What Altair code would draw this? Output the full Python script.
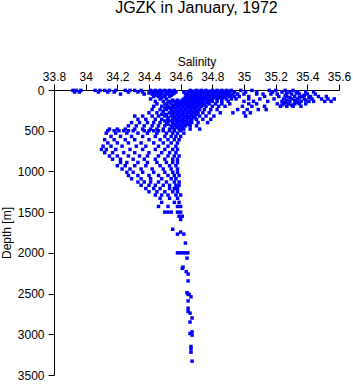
import altair as alt
import pandas as pd

# (depth [m], [salinity values observed at that depth])
surface_rows = [
    (5, [33.92, 33.94, 33.97, 34.06, 34.09, 34.12, 34.15, 34.19, 34.25, 34.28, 34.31, 34.35, 34.41, 34.44,
         34.47, 34.50, 34.53, 34.56, 34.66, 34.70, 34.73, 34.76, 34.80, 34.83, 34.86, 34.89, 34.92, 34.98,
         35.05, 35.16, 35.20, 35.26, 35.31]),
    (15, [34.43, 34.46, 34.49, 34.52, 34.55, 34.68, 34.72, 34.75, 34.78, 34.81, 34.84, 34.87, 34.90]),
    (25, [33.93, 33.96, 34.08, 34.14, 34.18, 34.27, 34.33, 34.36, 34.42, 34.45, 34.48, 34.51, 34.54, 34.57,
          34.62, 34.65, 34.68, 34.71, 34.74, 34.77, 34.79, 34.82, 34.85, 34.88, 34.91, 34.94, 35.01, 35.08,
          35.18, 35.24, 35.29, 35.34, 35.39, 35.44]),
    (37, [34.40, 34.44, 34.47, 34.51, 34.56, 34.64, 34.67, 34.70, 34.73, 34.76, 34.80, 34.86, 34.89, 35.27,
          35.33]),
    (50, [34.22, 34.37, 34.42, 34.45, 34.48, 34.52, 34.55, 34.63, 34.66, 34.69, 34.72, 34.75, 34.78, 34.81,
          34.84, 34.87, 34.90, 34.93, 34.96, 35.00, 35.08, 35.12, 35.17, 35.21, 35.30, 35.35, 35.40, 35.45]),
    (65, [34.44, 34.47, 34.50, 34.54, 34.65, 34.68, 34.71, 34.74, 34.77, 34.80, 34.83, 34.86, 34.89, 34.92,
          35.26, 35.38]),
    (80, [34.43, 34.46, 34.50, 34.53, 34.64, 34.67, 34.70, 34.73, 34.76, 34.79, 34.82, 34.85, 34.88, 34.91,
          34.94, 34.97, 35.03, 35.13, 35.22, 35.27, 35.32, 35.37, 35.42, 35.47, 35.52]),
    (95, [34.48, 34.63, 34.66, 34.69, 34.72, 34.75, 34.78, 34.81, 34.84, 34.87, 35.29, 35.35, 35.41]),
    (110, [34.41, 34.47, 34.51, 34.62, 34.65, 34.68, 34.71, 34.74, 34.77, 34.80, 34.83, 34.86, 34.89, 34.92,
           34.95, 35.03, 35.10, 35.19, 35.25, 35.30, 35.34, 35.38, 35.43, 35.49, 35.53, 35.57]),
]

upper_rows = [
    (125, [34.55, 34.58, 34.61, 34.64, 34.67, 34.70, 34.73, 34.76, 34.79, 35.27, 35.32, 35.39]),
    (140, [34.44, 34.49, 34.53, 34.56, 34.59, 34.62, 34.65, 34.68, 34.71, 34.74, 34.77, 34.80, 34.83, 34.86,
           34.90, 35.00, 35.06, 35.15, 35.24, 35.29, 35.33, 35.36, 35.41, 35.44, 35.51, 35.55]),
    (155, [34.52, 34.58, 34.61, 34.64, 34.67, 34.70, 34.73, 34.77, 35.26, 35.34]),
    (170, [34.45, 34.50, 34.54, 34.57, 34.60, 34.63, 34.66, 34.69, 34.72, 34.75, 34.78, 34.82, 34.86, 34.91,
           35.03, 35.08, 35.21, 35.25, 35.28, 35.32, 35.35, 35.39]),
    (185, [34.51, 34.56, 34.59, 34.62, 34.65, 34.68, 34.71, 34.74, 35.24, 35.30]),
    (200, [34.43, 34.48, 34.52, 34.55, 34.58, 34.61, 34.64, 34.67, 34.70, 34.73, 34.76, 34.80, 34.84, 34.88,
           34.99, 35.05, 35.13, 35.23, 35.27, 35.31, 35.36]),
    (220, [34.50, 34.53, 34.56, 34.59, 34.62, 34.65, 34.68, 34.71]),
    (240, [34.42, 34.47, 34.51, 34.54, 34.57, 34.60, 34.63, 34.66, 34.69, 34.72, 34.75, 34.79, 34.83, 34.96,
           35.02, 35.09, 35.14]),
    (260, [34.49, 34.55, 34.58, 34.61, 34.64, 34.67, 34.70]),
    (280, [34.40, 34.45, 34.49, 34.53, 34.56, 34.59, 34.62, 34.65, 34.68, 34.71, 34.74, 34.78, 34.85, 34.93,
           35.00, 35.04]),
    (300, [34.48, 34.51, 34.55, 34.58, 34.61, 34.64, 34.67, 34.70]),
    (320, [34.31, 34.36, 34.42, 34.46, 34.50, 34.54, 34.57, 34.60, 34.63, 34.66, 34.69, 34.72, 34.76, 34.81,
           35.01]),
    (340, [34.52, 34.56, 34.59, 34.62, 34.65, 34.68]),
    (360, [34.33, 34.38, 34.44, 34.48, 34.52, 34.55, 34.58, 34.61, 34.64, 34.67, 34.70, 34.74, 34.79]),
    (380, [34.50, 34.53, 34.57, 34.60, 34.63, 34.66]),
    (400, [34.29, 34.34, 34.39, 34.43, 34.47, 34.51, 34.55, 34.58, 34.61, 34.64, 34.67, 34.71, 34.77]),
    (420, [34.52, 34.56, 34.59, 34.62, 34.65]),
    (440, [34.27, 34.32, 34.37, 34.42, 34.46, 34.50, 34.54, 34.57, 34.60, 34.63, 34.66, 34.70]),
    (460, [34.55, 34.58, 34.61]),
    (480, [34.15, 34.20, 34.25, 34.31, 34.36, 34.41, 34.45, 34.49, 34.53, 34.56, 34.59, 34.62, 34.66, 34.72]),
]

middle_rows = [
    (500, [34.14, 34.18, 34.21, 34.24, 34.27, 34.30, 34.37, 34.40, 34.43, 34.46, 34.49, 34.53, 34.56, 34.60]),
    (530, [34.13, 34.19, 34.26, 34.33, 34.39, 34.45, 34.51, 34.55, 34.58, 34.62]),
    (570, [34.16, 34.22, 34.29, 34.36, 34.44, 34.50, 34.54, 34.57, 34.60]),
    (610, [34.12, 34.18, 34.25, 34.31, 34.40, 34.47, 34.52, 34.56, 34.59]),
    (650, [34.14, 34.20, 34.27, 34.35, 34.43, 34.49, 34.54, 34.58]),
    (690, [34.11, 34.16, 34.23, 34.32, 34.38, 34.46, 34.52, 34.57]),
    (730, [34.10, 34.13, 34.19, 34.28, 34.36, 34.44, 34.50, 34.55, 34.58]),
    (770, [34.12, 34.17, 34.24, 34.31, 34.40, 34.48, 34.53, 34.57]),
    (810, [34.15, 34.20, 34.27, 34.34, 34.39, 34.46, 34.52, 34.56, 34.59]),
    (850, [34.17, 34.22, 34.30, 34.37, 34.44, 34.50, 34.55, 34.58]),
    (890, [34.22, 34.26, 34.33, 34.39, 34.45, 34.51, 34.55, 34.58]),
    (930, [34.20, 34.25, 34.31, 34.38, 34.47, 34.53, 34.57]),
    (970, [34.23, 34.28, 34.35, 34.42, 34.49, 34.54, 34.58]),
    (1010, [34.26, 34.30, 34.36, 34.43, 34.50, 34.55, 34.58]),
    (1050, [34.27, 34.33, 34.40, 34.46, 34.52, 34.56, 34.59]),
    (1090, [34.29, 34.35, 34.41, 34.48, 34.54, 34.57]),
    (1130, [34.33, 34.37, 34.41, 34.46, 34.51, 34.56, 34.59]),
    (1170, [34.35, 34.40, 34.44, 34.49, 34.53, 34.57, 34.59]),
    (1210, [34.38, 34.43, 34.47, 34.53, 34.56, 34.58]),
    (1250, [34.40, 34.45, 34.50, 34.55, 34.58]),
    (1290, [34.44, 34.48, 34.52, 34.57, 34.60]),
    (1330, [34.47, 34.53, 34.58]),
    (1380, [34.48, 34.56, 34.59]),
    (1430, [34.46, 34.52, 34.58, 34.60]),
    (1500, [34.50, 34.52, 34.54, 34.58, 34.60]),
    (1550, [34.59, 34.61]),
    (1590, [34.60]),
]

deep_rows = [
    (1710, [34.55]), (1745, [34.60]), (1770, [34.58, 34.62]), (1880, [34.63]),
    (2000, [34.58, 34.60, 34.615, 34.63, 34.645]), (2065, [34.64]), (2175, [34.615]),
    (2190, [34.61]), (2230, [34.635]), (2260, [34.647]), (2345, [34.647]), (2490, [34.64]),
    (2510, [34.653, 34.647]), (2540, [34.665]), (2590, [34.647]), (2680, [34.647]),
    (2720, [34.647]), (2740, [34.659]), (2800, [34.672]), (2850, [34.659]), (2970, [34.672]),
    (2990, [34.659]), (3010, [34.672]), (3150, [34.665]), (3180, [34.665]), (3220, [34.665]),
    (3330, [34.672]),
]

x_ticks = [33.8, 34.0, 34.2, 34.4, 34.6, 34.8, 35.0, 35.2, 35.4, 35.6]
y_ticks = [0, 500, 1000, 1500, 2000, 2500, 3000, 3500]

records = []
for rows in (surface_rows, upper_rows, middle_rows, deep_rows):
    for depth, sals in rows:
        for s in sals:
            records.append({"salinity": s, "depth": depth})
df = pd.DataFrame(records)

FONT = "Liberation Sans"

chart = (
    alt.Chart(df)
    .mark_square(size=12, color="#0000ff", opacity=1)
    .encode(
        x=alt.X(
            "salinity:Q",
            scale=alt.Scale(domain=[33.8, 35.6], nice=False, zero=False),
            axis=alt.Axis(
                orient="top", values=x_ticks, format="~g", title="Salinity", grid=False,
                tickSize=6, labelPadding=1, titlePadding=2, labelFlush=False, labelOverlap=False,
            ),
        ),
        y=alt.Y(
            "depth:Q",
            scale=alt.Scale(domain=[0, 3500], reverse=True, nice=False, zero=False),
            axis=alt.Axis(
                values=y_ticks, format="d", title="Depth [m]", grid=False,
                tickSize=6, labelPadding=4, titlePadding=4, labelFlush=False, labelOverlap=False,
            ),
        ),
    )
    .properties(
        width=285,
        height=285,
        title=alt.Title("JGZK in January, 1972", fontSize=16, font=FONT, fontWeight="normal",
                        color="black", offset=39),
        autosize=alt.AutoSizeParams(type="none"),
        padding={"left": 54, "top": 90, "right": 14, "bottom": 9},
    )
    .configure_view(stroke=None)
    .configure_axis(
        labelFont=FONT, titleFont=FONT, labelFontSize=12, titleFontSize=12,
        titleFontWeight="normal", labelColor="black", titleColor="black",
        domainColor="black", tickColor="black", domainWidth=1, tickWidth=1,
    )
)

chart.save("out.html", embed_options={"renderer": "svg", "actions": False})
